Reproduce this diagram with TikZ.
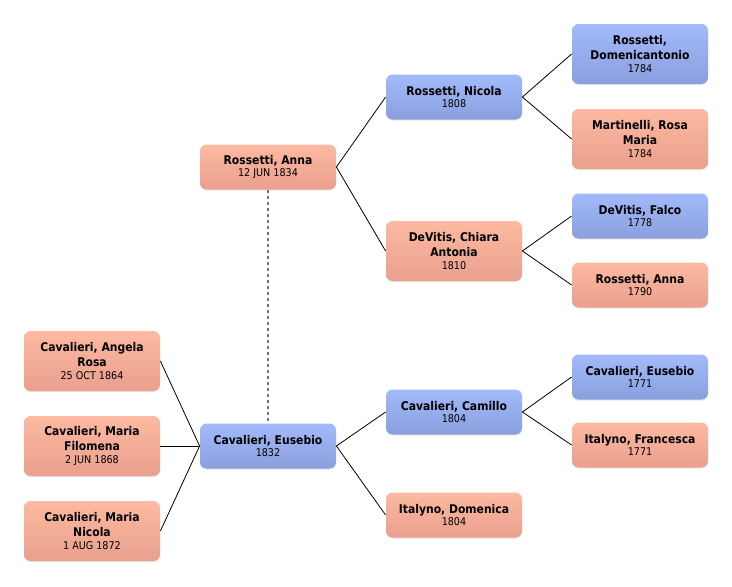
\documentclass[tikz,border=0pt]{standalone}
\usepackage{fontspec}
\setmainfont{DejaVu Sans Condensed}
\usepackage{tikz}
\usetikzlibrary{shadows}
\definecolor{bluetop}{HTML}{A2BAFB}
\definecolor{bluebot}{HTML}{8A9FDD}
\definecolor{pinktop}{HTML}{FDB9A1}
\definecolor{pinkbot}{HTML}{E9A08D}
\newcommand{\datefont}{\fontsize{8}{10}\selectfont}

\begin{document}
\begin{tikzpicture}[x=.75pt, y=-.75pt, line width=.6pt]
\useasboundingbox (0,0) rectangle (732,586);
\begin{scope}[font=\fontsize{9}{11.5}\selectfont, align=center]
\tikzstyle{box}=[rounded corners=5pt, minimum width=102pt, minimum height=33.75pt, inner sep=2pt, drop shadow={opacity=.2,shadow xshift=0pt,shadow yshift=-.8pt}] %%
\tikzstyle{male}=[box, top color=bluetop, bottom color=bluebot] %%
\tikzstyle{female}=[box, top color=pinktop, bottom color=pinkbot] %%
\tikzstyle{tall}=[minimum height=45pt] %%
\node[female] (s0) at (268,167) {\textbf{Rossetti, Anna}\\[-2pt]{\datefont 12 JUN 1834}}; %%
\node[male] (s1) at (454,97) {\textbf{Rossetti, Nicola}\\[-2pt]{\datefont 1808}}; %%
\node[female,tall] (s2) at (454,251) {\textbf{DeVitis, Chiara}\\\textbf{Antonia}\\[-2pt]{\datefont 1810}}; %%
\node[male,tall] (s3) at (640,54) {\textbf{Rossetti,}\\\textbf{Domenicantonio}\\[-2pt]{\datefont 1784}}; %%
\node[female,tall] (s4) at (640,139) {\textbf{Martinelli, Rosa}\\\textbf{Maria}\\[-2pt]{\datefont 1784}}; %%
\node[male] (s5) at (640,216) {\textbf{DeVitis, Falco}\\[-2pt]{\datefont 1778}}; %%
\node[female] (s6) at (640,285) {\textbf{Rossetti, Anna}\\[-2pt]{\datefont 1790}}; %%
\node[male] (s7) at (268,446) {\textbf{Cavalieri, Eusebio}\\[-2pt]{\datefont 1832}}; %%
\node[male] (s8) at (454,412) {\textbf{Cavalieri, Camillo}\\[-2pt]{\datefont 1804}}; %%
\node[female] (s9) at (454,515) {\textbf{Italyno, Domenica}\\[-2pt]{\datefont 1804}}; %%
\node[male] (s10) at (640,377) {\textbf{Cavalieri, Eusebio}\\[-2pt]{\datefont 1771}}; %%
\node[female] (s11) at (640,445) {\textbf{Italyno, Francesca}\\[-2pt]{\datefont 1771}}; %%
\node[female,tall] (s12) at (92,361) {\textbf{Cavalieri, Angela}\\\textbf{Rosa}\\[-2pt]{\datefont 25 OCT 1864}}; %%
\node[female,tall] (s13) at (92,446) {\textbf{Cavalieri, Maria}\\\textbf{Filomena}\\[-2pt]{\datefont 2 JUN 1868}}; %%
\node[female,tall] (s14) at (92,531) {\textbf{Cavalieri, Maria}\\\textbf{Nicola}\\[-2pt]{\datefont 1 AUG 1872}};
\end{scope}
%% ancestors
\draw (s0.east)--(s1.west); %%
\draw (s0.east)--(s2.west); %%
\draw (s1.east)--(s3.west); %%
\draw (s1.east)--(s4.west); %%
\draw (s2.east)--(s5.west); %%
\draw (s2.east)--(s6.west); %%
\draw (s7.east)--(s8.west); %%
\draw (s7.east)--(s9.west); %%
\draw (s8.east)--(s10.west); %%
\draw (s8.east)--(s11.west); %%
%% children
\draw (s12.east)--(s7.west); %%
\draw (s13.east)--(s7.west); %%
\draw (s14.east)--(s7.west); %%
\draw[black!55, line width=1.5pt, dash pattern=on 2.25pt off 2.25pt] (s0.south)--(s7.north);
\end{tikzpicture}
\end{document}
